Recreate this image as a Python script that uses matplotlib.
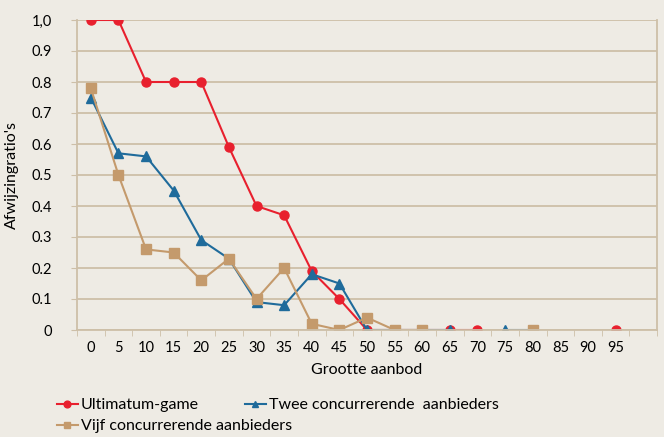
import numpy as np
import matplotlib
matplotlib.use('Agg')
import matplotlib.pyplot as plt

# Data (NaN = no observation)
offers = list(range(0, 105, 5))
tick_labels = [str(v) for v in range(0, 100, 5)] + ['']
nan = np.nan
ultimatum = [1.0, 1.0, 0.8, 0.8, 0.8, 0.59, 0.40, 0.37, 0.19, 0.10,
             0.0, 0.0, 0.0, 0.0, 0.0, nan, nan, nan, nan, 0.0, nan]
twee = [0.75, 0.57, 0.56, 0.45, 0.29, 0.23, 0.09, 0.08, 0.18, 0.15,
        0.0, 0.0, 0.0, 0.0, nan, 0.0, 0.0, nan, nan, nan, nan]
vijf = [0.78, 0.50, 0.26, 0.25, 0.16, 0.23, 0.10, 0.20, 0.02, 0.0,
        0.04, 0.0, 0.0, nan, nan, nan, 0.0, nan, nan, nan, nan]
y_ticks = [0, 0.1, 0.2, 0.3, 0.4, 0.5, 0.6, 0.7, 0.8, 0.9, 1.0]
y_labels = ['0', '0.1', '0.2', '0.3', '0.4', '0.5', '0.6', '0.7', '0.8', '0.9', '1,0']

bg = '#EEEBE4'
grid_col = '#CDBFA8'
red = '#E8202E'
blue = '#1F6B9B'
tan = '#C49A6C'

plt.rcParams['font.family'] = ['Lato', 'DejaVu Sans']

fig = plt.figure(figsize=(6.64, 4.37), dpi=100, facecolor=bg)
ax = fig.add_axes([77 / 664, 1 - 330 / 437, 580 / 664, 310 / 437], facecolor=bg)

x = np.arange(len(offers))
l1, = ax.plot(x, ultimatum, color=red, marker='o', markersize=6.5, lw=1.5)
l2, = ax.plot(x, twee, color=blue, marker='^', markersize=6.5, lw=1.5)
l3, = ax.plot(x, vijf, color=tan, marker='s', markersize=6.5, lw=1.5)

ax.set_xlim(-0.5, len(offers) - 0.5)
ax.set_ylim(0, 1.0)
ax.set_yticks(y_ticks)
ax.set_yticklabels(y_labels, fontsize=10.5)
ax.set_xticks(x)
ax.set_xticklabels(tick_labels, fontsize=10.5)
ax.set_xticks(np.arange(-0.5, len(offers), 1), minor=True)
ax.tick_params(axis='x', which='major', length=0, pad=8)
ax.tick_params(axis='x', which='minor', length=4, color=grid_col, direction='out')
ax.tick_params(axis='y', length=4, color=grid_col, pad=14)

ax.grid(axis='y', color=grid_col, lw=1.3)
ax.set_axisbelow(True)
for s in ['left', 'right', 'bottom']:
    ax.spines[s].set_color(grid_col)
    ax.spines[s].set_linewidth(1.3)
ax.spines['top'].set_visible(False)

ax.set_xlabel('Grootte aanbod', fontsize=11.5, labelpad=6)
ax.set_ylabel("Afwijzingratio's", fontsize=11.5, labelpad=9)

# legend entries placed individually (rows overlap like the original)
legend_items = [(l1, 'Ultimatum-game', 57, 398),
                (l2, 'Twee concurrerende  aanbieders', 245, 398),
                (l3, 'Vijf concurrerende aanbieders', 57, 419)]
for handle, text, px, py in legend_items:
    fig.legend([handle], [text], loc='upper left',
               bbox_to_anchor=(px / 664, 1 - py / 437), frameon=False,
               fontsize=11.5, handlelength=1.3, handletextpad=0.2,
               borderaxespad=0, borderpad=0, markerscale=0.75)

fig.savefig('out.png', dpi=100, facecolor=bg)
